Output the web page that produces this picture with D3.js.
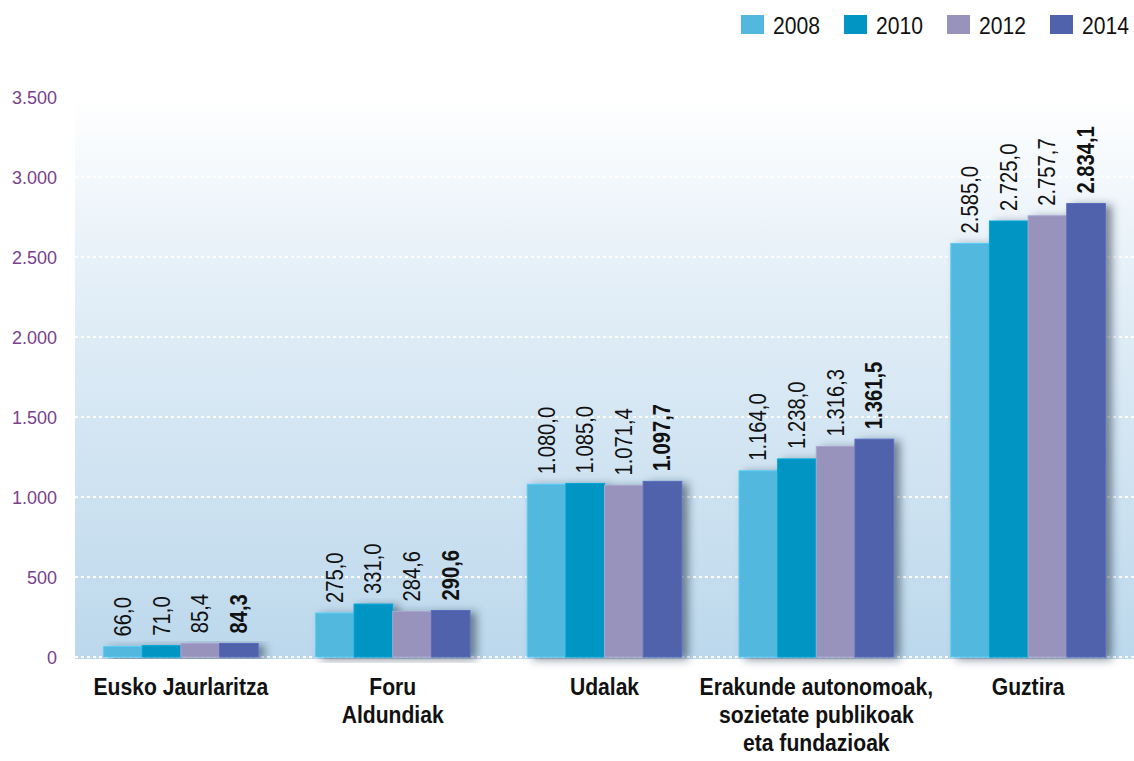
<!DOCTYPE html>
<html>
<head>
<meta charset="utf-8">
<script src="https://cdn.jsdelivr.net/npm/d3@7"></script>
<style>
  body { margin: 0; background: #fff; }
  svg { display: block; }
  .narrow { font-family: 'Liberation Sans', Arial, Helvetica, sans-serif; }
</style>
</head>
<body>
<svg></svg>
<script>
const width = 1134;
const height = 761;

// datuak
const categories = [
	["Eusko Jaurlaritza"],
	["Foru", "Aldundiak"],
	["Udalak"],
	["Erakunde autonomoak,", "sozietate publikoak", "eta fundazioak"],
	["Guztira"]
];
const years = ["2008", "2010", "2012", "2014"];
const colors = ["#52b8de", "#0095c3", "#9893bc", "#4f62ab"];
const v2008 = [66.0, 275.0, 1080.0, 1164.0, 2585.0];
const v2010 = [71.0, 331.0, 1085.0, 1238.0, 2725.0];
const v2012 = [85.4, 284.6, 1071.4, 1316.3, 2757.7];
const v2014 = [84.3, 290.6, 1097.7, 1361.5, 2834.1];
const series = [v2008, v2010, v2012, v2014];
const yTicks = [0, 500, 1000, 1500, 2000, 2500, 3000, 3500];

const margin = {left: 75, right: 0, top: 97, bottom: 104};
const svg = d3.select("svg").attr("width", width).attr("height", height);

const fmt = d3.formatLocale({decimal: ",", thousands: ".", grouping: [3], currency: ["", ""]});
const fmt1 = fmt.format(",.1f");
const fmt0 = fmt.format(",.0f");

const x0 = d3.scaleBand()
	.domain(d3.range(categories.length))
	.range([margin.left, width - margin.right])
	.paddingInner(0.27)
	.paddingOuter(0.135);
const x1 = d3.scaleBand()
	.domain(years)
	.range([0, x0.bandwidth()]);
const y = d3.scaleLinear()
	.domain([0, 3500])
	.range([height - margin.bottom, margin.top]);

const defs = svg.append("defs");
const grad = defs.append("linearGradient")
	.attr("id", "bg").attr("x1", 0).attr("y1", 0).attr("x2", 0).attr("y2", 1);
grad.append("stop").attr("offset", "0%").attr("stop-color", "#ffffff");
grad.append("stop").attr("offset", "35%").attr("stop-color", "#e2eef7");
grad.append("stop").attr("offset", "100%").attr("stop-color", "#bcd8ec");

const shadow = defs.append("filter").attr("id", "shadow")
	.attr("x", "-10%").attr("y", "-10%").attr("width", "130%").attr("height", "120%");
shadow.append("feDropShadow")
	.attr("dx", 6).attr("dy", 2).attr("stdDeviation", 4)
	.attr("flood-color", "#223344").attr("flood-opacity", 0.55);

// fondoa
svg.append("rect")
	.attr("x", margin.left)
	.attr("y", y(3500))
	.attr("width", width - margin.left - margin.right)
	.attr("height", y(0) - y(3500) + 2)
	.attr("fill", "url(#bg)");

// sareta
svg.append("g").selectAll("line")
	.data(yTicks.filter(d => d < 3500))
	.join("line")
	.attr("x1", margin.left)
	.attr("x2", width - margin.right)
	.attr("y1", d => y(d))
	.attr("y2", d => y(d))
	.attr("stroke", "#ffffff")
	.attr("stroke-width", 2)
	.attr("stroke-dasharray", "3,3");

// ardatza
svg.append("g").selectAll("text")
	.data(yTicks)
	.join("text")
	.attr("x", 57)
	.attr("y", d => y(d) + 7)
	.attr("text-anchor", "end")
	.attr("fill", "#7b3f8c")
	.style("font-family", "'Liberation Sans', Arial, sans-serif")
	.style("font-size", "18px")
	.text(d => fmt0(d));

// barrak
const groups = svg.append("g").selectAll("g")
	.data(categories.map((c, i) => i))
	.join("g")
	.attr("transform", i => `translate(${x0(i)},0)`);

groups.append("g")
	.attr("filter", "url(#shadow)")
	.selectAll("rect")
	.data(i => series.map((s, k) => ({year: years[k], value: s[i], k})))
	.join("rect")
	.attr("x", d => x1(d.year))
	.attr("y", d => y(d.value))
	.attr("width", x1.bandwidth())
	.attr("height", d => y(0) - y(d.value))
	.attr("fill", d => colors[d.k])
	.attr("stroke", d => d3.color(colors[d.k]).brighter(0.3))
	.attr("stroke-width", 1);

// balioak (letra estua: eskala horizontala)
groups.selectAll("text.val")
	.data(i => series.map((s, k) => ({year: years[k], value: s[i], k})))
	.join("text")
	.attr("class", "val narrow")
	.attr("transform", d => `translate(${x1(d.year) + x1.bandwidth() / 2 + 8},${y(d.value) - 10}) rotate(-90) scale(0.86,1)`)
	.attr("text-anchor", "start")
	.attr("fill", "#111")
	.style("font-size", "23.5px")
	.style("font-weight", d => d.k === 3 ? "bold" : "normal")
	.text(d => fmt1(d.value));

// kategoriak
const cat = svg.append("g").selectAll("text")
	.data(categories.map((c, i) => ({lines: c, i})))
	.join("text")
	.attr("class", "narrow")
	.attr("transform", d => `translate(${x0(d.i) + x0.bandwidth() / 2},${y(0) + 38}) scale(0.88,1)`)
	.attr("text-anchor", "middle")
	.attr("fill", "#111")
	.style("font-size", "24px")
	.style("font-weight", "bold");
cat.selectAll("tspan")
	.data(d => d.lines)
	.join("tspan")
	.attr("x", 0)
	.attr("dy", (d, j) => j === 0 ? 0 : 28)
	.text(d => d);

// legenda
const legend = svg.append("g").selectAll("g")
	.data(years)
	.join("g")
	.attr("transform", (d, i) => `translate(${741 + i * 103},15)`);
legend.append("rect")
	.attr("width", 23).attr("height", 19)
	.attr("fill", (d, i) => colors[i]);
legend.append("text")
	.attr("class", "narrow")
	.attr("transform", "translate(32,19) scale(0.88,1)")
	.attr("fill", "#111")
	.style("font-size", "24px")
	.text(d => d);
</script>
</body>
</html>
